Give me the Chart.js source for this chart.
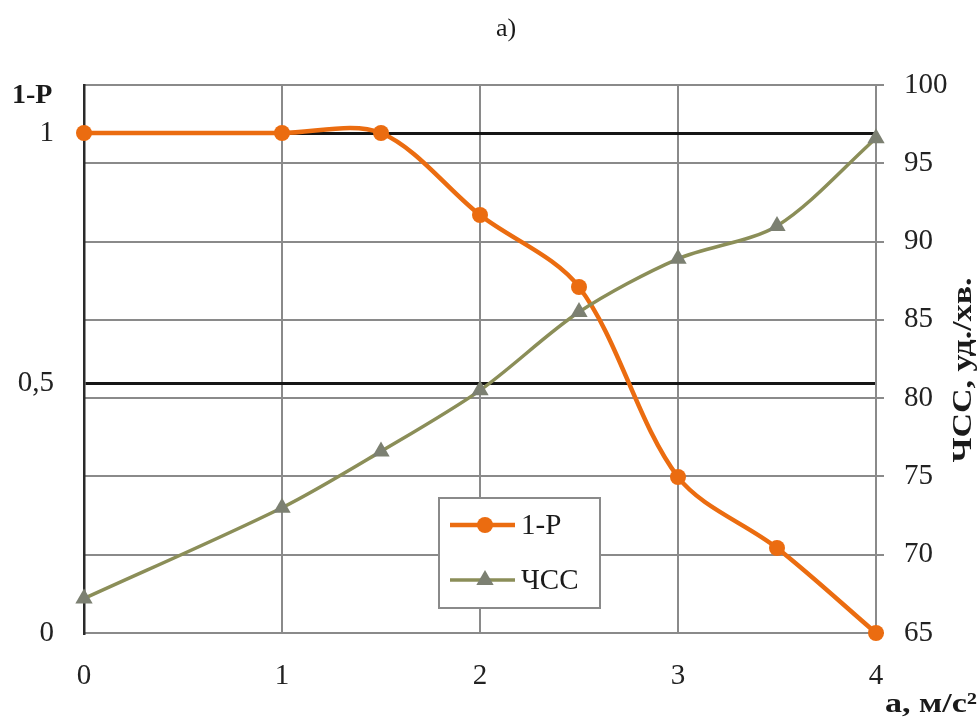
<!DOCTYPE html>
<html>
<head>
<meta charset="utf-8">
<script src="https://cdn.jsdelivr.net/npm/chart.js@4"></script>
<style>
  body { margin: 0; background: #fff; }
</style>
</head>
<body>
<canvas id="chart" width="980" height="717"></canvas>
<script>
// values
const accel = [0, 1, 1.5, 2, 2.5, 3, 3.5, 4];
const oneMinusP = [1, 1, 1, 0.836, 0.692, 0.312, 0.17, 0];
const heartRate = [67.2, 73.0, 76.6, 80.5, 85.5, 88.9, 91.0, 96.6];
const leftTicks = [0, 0.5, 1];
const leftTickLabels = ['0', '0,5', '1'];

const ORANGE = '#eb6c10';
const OLIVE = '#8b8e58';
const OLIVE_MARK = '#7c8072';
const GRID = '#8a8a8a';
const SERIF = '"Liberation Serif", "Times New Roman", serif';

const toPoints = (ys) => accel.map((x, i) => ({ x: x, y: ys[i] }));

// draws text squeezed/stretched to a given width
function fitText(ctx, text, x, y, width) {
  const w = ctx.measureText(text).width;
  ctx.save();
  ctx.translate(x, y);
  ctx.scale(width / w, 1);
  ctx.fillText(text, 0, 0);
  ctx.restore();
}

// axis titles, caption and the boxed legend
const extras = {
  id: 'extras',
  afterDraw(chart) {
    const ctx = chart.ctx;
    ctx.save();
    ctx.fillStyle = '#1a1a1a';
    ctx.textBaseline = 'middle';

    ctx.font = '26px ' + SERIF;
    ctx.textAlign = 'center';
    ctx.fillText('a)', 506, 29);

    ctx.font = 'bold 28px ' + SERIF;
    ctx.textAlign = 'left';
    ctx.fillText('1-P', 12, 96);

    ctx.font = 'bold 28px ' + SERIF;
    fitText(ctx, 'a, м/с²', 885, 705, 92);

    // rotated right title
    ctx.save();
    ctx.translate(964, 370);
    ctx.rotate(-Math.PI / 2);
    ctx.font = 'bold 27px ' + SERIF;
    ctx.textAlign = 'center';
    fitText(ctx, 'ЧСС, уд./хв.', 0, 0, 185);
    ctx.restore();

    // legend
    const bx = 439, by = 498, bw = 161, bh = 110;
    ctx.fillStyle = '#fff';
    ctx.fillRect(bx, by, bw, bh);
    ctx.strokeStyle = GRID;
    ctx.lineWidth = 2;
    ctx.strokeRect(bx, by, bw, bh);

    const rows = [
      { label: '1-P', y: 525, color: ORANGE, mark: ORANGE, lw: 4.5, style: 'circle', r: 8 },
      { label: 'ЧСС', y: 580, color: OLIVE, mark: OLIVE_MARK, lw: 3.5, style: 'triangle', r: 10 }
    ];
    rows.forEach(r => {
      ctx.strokeStyle = r.color;
      ctx.lineWidth = r.lw;
      ctx.beginPath();
      ctx.moveTo(450, r.y);
      ctx.lineTo(515, r.y);
      ctx.stroke();
      ctx.fillStyle = r.mark;
      ctx.strokeStyle = r.mark;
      Chart.helpers.drawPoint(ctx, {
        pointStyle: r.style, radius: r.r, rotation: 0, borderWidth: 0
      }, 485, r.y);
      ctx.fillStyle = '#1a1a1a';
      ctx.font = '29px ' + SERIF;
      ctx.textAlign = 'left';
      ctx.fillText(r.label, 521, r.y + 1);
    });
    ctx.restore();
  }
};

new Chart(document.getElementById('chart'), {
  type: 'line',
  data: {
    datasets: [
      {
        label: '1-P',
        data: toPoints(oneMinusP),
        yAxisID: 'yL',
        borderColor: ORANGE,
        backgroundColor: ORANGE,
        borderWidth: 4.5,
        pointStyle: 'circle',
        pointRadius: 8,
        pointBorderWidth: 0,
        tension: 0.32,
        clip: false,
        order: 1
      },
      {
        label: 'ЧСС',
        data: toPoints(heartRate),
        yAxisID: 'yR',
        borderColor: OLIVE,
        backgroundColor: OLIVE_MARK,
        borderWidth: 3.5,
        pointStyle: 'triangle',
        pointRadius: 10,
        pointBorderWidth: 0,
        tension: 0.3,
        clip: false,
        order: 0
      }
    ]
  },
  options: {
    responsive: false,
    animation: false,
    layout: { padding: { top: 85, left: 0, right: 0, bottom: 0 } },
    plugins: {
      legend: { display: false },
      tooltip: { enabled: false },
      title: { display: false }
    },
    scales: {
      x: {
        type: 'linear',
        position: 'bottom',
        min: 0,
        max: 4,
        afterFit: s => { s.height = 84; },
        ticks: { stepSize: 1, padding: 26, color: '#222', font: { family: SERIF, size: 29 } },
        grid: { color: GRID, lineWidth: 2, drawTicks: false },
        border: { color: GRID, width: 2 }
      },
      yL: {
        type: 'linear',
        position: 'left',
        min: 0,
        max: 1.096,
        afterFit: s => { s.width = 84; },
        afterBuildTicks: s => { s.ticks = leftTicks.map(v => ({ value: v })); },
        ticks: {
          padding: 30,
          color: '#222',
          font: { family: SERIF, size: 29 },
          callback: v => leftTickLabels[leftTicks.indexOf(v)]
        },
        grid: {
          drawTicks: false,
          lineWidth: 3,
          color: c => (c.tick && c.tick.value > 0 ? '#151515' : 'rgba(0,0,0,0)')
        },
        border: { color: '#2a2a2a', width: 2.5 }
      },
      yR: {
        type: 'linear',
        position: 'right',
        min: 65,
        max: 100,
        afterFit: s => { s.width = 104; },
        ticks: { stepSize: 5, padding: 20, color: '#222', font: { family: SERIF, size: 29 } },
        grid: { color: GRID, lineWidth: 2, tickLength: 8, tickColor: GRID },
        border: { color: GRID, width: 2 }
      }
    }
  },
  plugins: [extras]
});
</script>
</body>
</html>
